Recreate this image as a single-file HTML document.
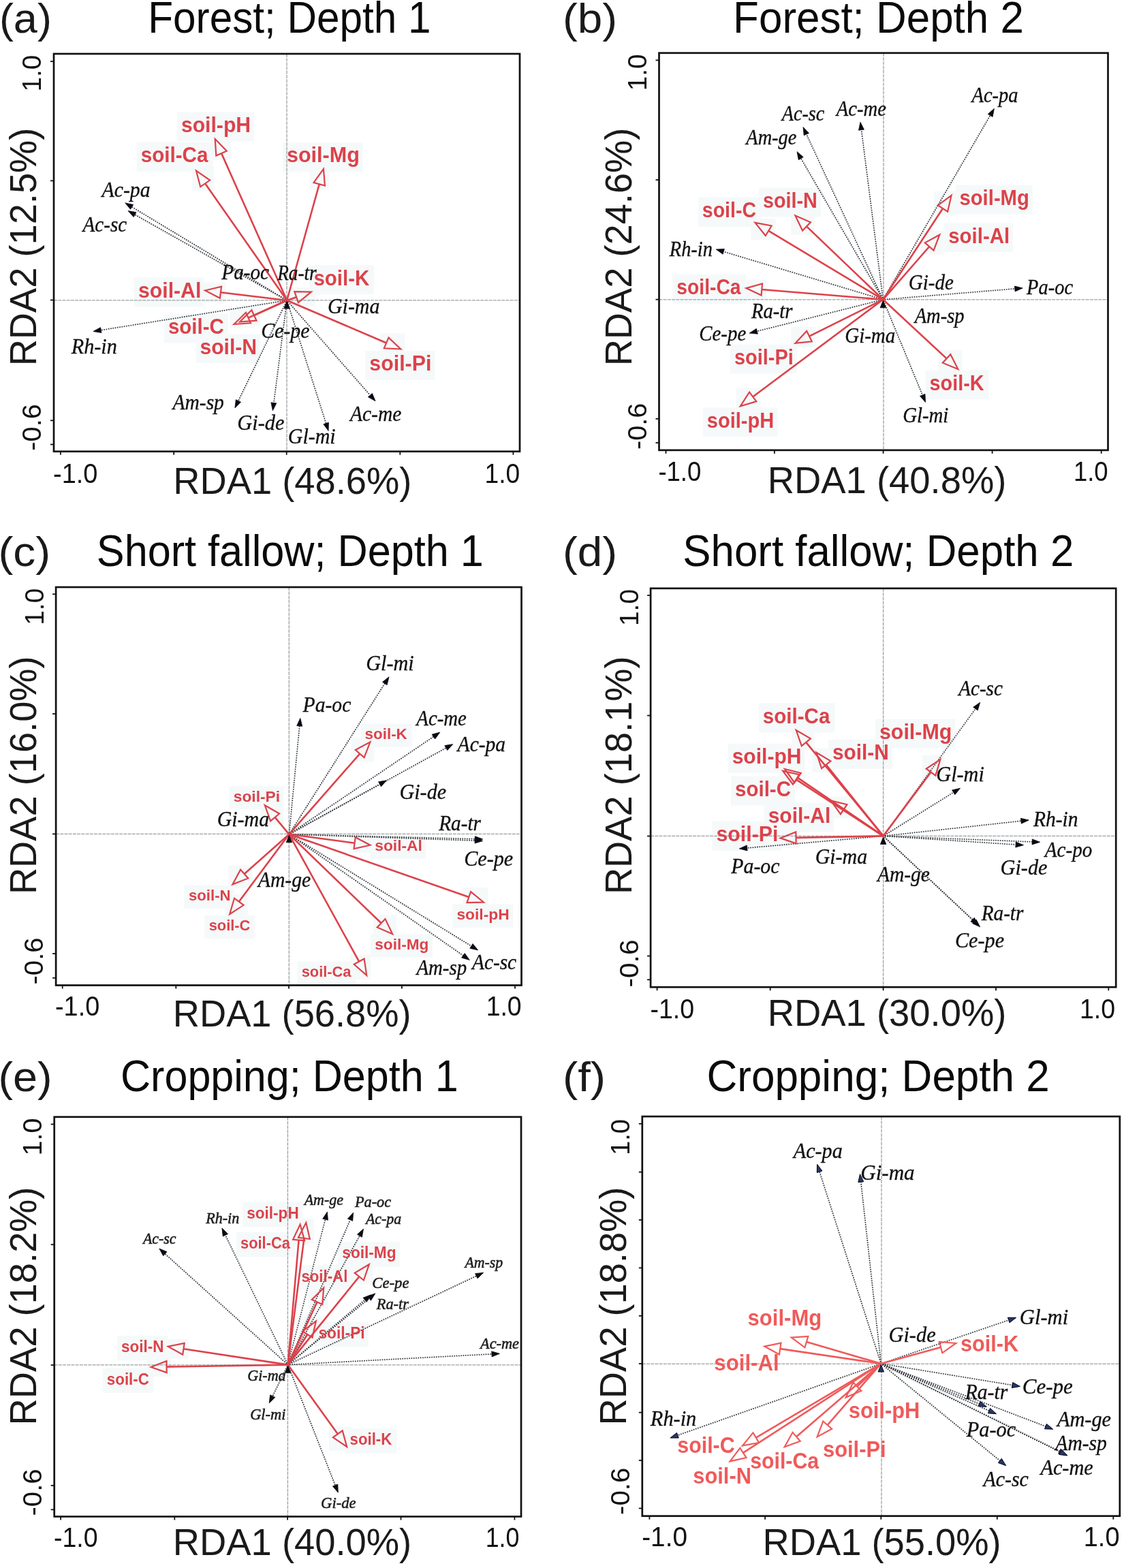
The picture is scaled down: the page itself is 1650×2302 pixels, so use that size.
<!DOCTYPE html>
<html><head><meta charset="utf-8"><title>RDA biplots</title>
<style>html,body{margin:0;padding:0;background:#fff;overflow:hidden;width:1650px;height:2302px;} svg{display:block;}</style></head>
<body><svg width="1650" height="2302" viewBox="0 0 1650 2302">
<rect width="1650" height="2302" fill="#fff"/>
<rect x="260.0" y="164.7" width="113.1" height="42.9" fill="#f5f9f9"/>
<rect x="309.7" y="198.1" width="29.1" height="36.5" fill="#f5f9f9"/>
<rect x="200.7" y="209.0" width="112.0" height="42.9" fill="#f5f9f9"/>
<rect x="282.0" y="244.6" width="32.1" height="35.7" fill="#f5f9f9"/>
<rect x="415.0" y="209.2" width="117.8" height="42.9" fill="#f5f9f9"/>
<rect x="454.5" y="242.1" width="28.4" height="36.4" fill="#f5f9f9"/>
<rect x="454.5" y="389.3" width="94.6" height="42.9" fill="#f5f9f9"/>
<rect x="426.3" y="422.1" width="36.5" height="28.1" fill="#f5f9f9"/>
<rect x="197.1" y="407.5" width="103.1" height="42.9" fill="#f5f9f9"/>
<rect x="295.1" y="414.8" width="35.9" height="28.9" fill="#f5f9f9"/>
<rect x="241.0" y="460.6" width="94.0" height="42.9" fill="#f5f9f9"/>
<rect x="337.5" y="452.8" width="36.5" height="29.2" fill="#f5f9f9"/>
<rect x="287.5" y="490.3" width="94.6" height="42.9" fill="#f5f9f9"/>
<rect x="346.0" y="449.2" width="36.5" height="29.3" fill="#f5f9f9"/>
<rect x="536.4" y="514.9" width="101.8" height="42.9" fill="#f5f9f9"/>
<rect x="557.8" y="489.6" width="36.5" height="28.9" fill="#f5f9f9"/>
<line x1="79.0" y1="440.8" x2="763.0" y2="440.8" stroke="#9ca1a1" stroke-width="1.3" stroke-dasharray="5 1.2"/>
<line x1="421.0" y1="79.0" x2="421.0" y2="662.8" stroke="#9ca1a1" stroke-width="1.3" stroke-dasharray="5 1.2"/>
<line x1="421.2" y1="441.0" x2="193.6" y2="303.8" stroke="#3c4146" stroke-width="2.0" stroke-linecap="round" stroke-dasharray="0.01 3.3"/>
<polygon points="183.7,297.9 195.6,300.4 191.5,307.3" fill="#0a0a14" stroke="#0a0a14" stroke-width="0.8"/>
<line x1="421.2" y1="441.0" x2="198.0" y2="315.1" stroke="#3c4146" stroke-width="2.0" stroke-linecap="round" stroke-dasharray="0.01 3.3"/>
<polygon points="188.0,309.5 200.0,311.7 196.1,318.6" fill="#0a0a14" stroke="#0a0a14" stroke-width="0.8"/>
<line x1="421.2" y1="441.0" x2="148.3" y2="484.7" stroke="#3c4146" stroke-width="2.0" stroke-linecap="round" stroke-dasharray="0.01 3.3"/>
<polygon points="136.9,486.5 147.6,480.7 148.9,488.6" fill="#0a0a14" stroke="#0a0a14" stroke-width="0.8"/>
<line x1="421.2" y1="441.0" x2="349.9" y2="588.5" stroke="#3c4146" stroke-width="2.0" stroke-linecap="round" stroke-dasharray="0.01 3.3"/>
<polygon points="344.9,598.9 346.3,586.8 353.5,590.3" fill="#0a0a14" stroke="#0a0a14" stroke-width="0.8"/>
<line x1="421.2" y1="441.0" x2="401.9" y2="591.4" stroke="#3c4146" stroke-width="2.0" stroke-linecap="round" stroke-dasharray="0.01 3.3"/>
<polygon points="400.4,602.8 397.9,590.9 405.8,591.9" fill="#0a0a14" stroke="#0a0a14" stroke-width="0.8"/>
<line x1="421.2" y1="441.0" x2="478.6" y2="621.5" stroke="#3c4146" stroke-width="2.0" stroke-linecap="round" stroke-dasharray="0.01 3.3"/>
<polygon points="482.1,632.5 474.8,622.8 482.4,620.3" fill="#0a0a14" stroke="#0a0a14" stroke-width="0.8"/>
<line x1="421.2" y1="441.0" x2="543.4" y2="580.2" stroke="#3c4146" stroke-width="2.0" stroke-linecap="round" stroke-dasharray="0.01 3.3"/>
<polygon points="551.0,588.8 540.4,582.8 546.4,577.5" fill="#0a0a14" stroke="#0a0a14" stroke-width="0.8"/>
<line x1="421.2" y1="441.0" x2="325.1" y2="225.1" stroke="#dc424b" stroke-width="2.6"/>
<polygon points="315.7,204.1 332.8,221.7 317.3,228.6" fill="none" stroke="#dc424b" stroke-width="2.2" stroke-linejoin="miter"/>
<line x1="421.2" y1="441.0" x2="301.2" y2="269.4" stroke="#dc424b" stroke-width="2.6"/>
<polygon points="288.0,250.6 308.1,264.6 294.2,274.3" fill="none" stroke="#dc424b" stroke-width="2.2" stroke-linejoin="miter"/>
<line x1="421.2" y1="441.0" x2="468.7" y2="270.3" stroke="#dc424b" stroke-width="2.6"/>
<polygon points="474.9,248.1 476.9,272.5 460.5,268.0" fill="none" stroke="#dc424b" stroke-width="2.2" stroke-linejoin="miter"/>
<line x1="421.2" y1="441.0" x2="435.1" y2="436.2" stroke="#dc424b" stroke-width="2.6"/>
<polygon points="456.8,428.6 437.9,444.2 432.3,428.1" fill="none" stroke="#dc424b" stroke-width="2.2" stroke-linejoin="miter"/>
<line x1="421.2" y1="441.0" x2="323.9" y2="429.3" stroke="#dc424b" stroke-width="2.6"/>
<polygon points="301.1,426.5 325.0,420.8 322.9,437.7" fill="none" stroke="#dc424b" stroke-width="2.2" stroke-linejoin="miter"/>
<line x1="421.2" y1="441.0" x2="364.5" y2="466.6" stroke="#dc424b" stroke-width="2.6"/>
<polygon points="343.5,476.0 361.0,458.8 368.0,474.3" fill="none" stroke="#dc424b" stroke-width="2.2" stroke-linejoin="miter"/>
<line x1="421.2" y1="441.0" x2="372.9" y2="463.0" stroke="#dc424b" stroke-width="2.6"/>
<polygon points="352.0,472.5 369.4,455.2 376.5,470.7" fill="none" stroke="#dc424b" stroke-width="2.2" stroke-linejoin="miter"/>
<line x1="421.2" y1="441.0" x2="567.2" y2="503.5" stroke="#dc424b" stroke-width="2.6"/>
<polygon points="588.3,512.5 563.8,511.3 570.5,495.6" fill="none" stroke="#dc424b" stroke-width="2.2" stroke-linejoin="miter"/>
<polygon points="421.2,442.5 417.0,453.0 425.4,453.0" fill="#0a0a14" stroke="#0a0a14" stroke-width="0.8"/>
<text transform="translate(149.62,288.60) scale(0.9426,1)" font-size="31.5" font-family='"Liberation Serif", "Times New Roman", serif' font-weight="normal" font-style="italic" fill="#111" stroke="#111" stroke-width="0.35">Ac-pa</text>
<text transform="translate(121.59,339.80) scale(0.9224,1)" font-size="31.5" font-family='"Liberation Serif", "Times New Roman", serif' font-weight="normal" font-style="italic" fill="#111" stroke="#111" stroke-width="0.35">Ac-sc</text>
<text transform="translate(104.76,519.40) scale(0.9572,1)" font-size="31.5" font-family='"Liberation Serif", "Times New Roman", serif' font-weight="normal" font-style="italic" fill="#111" stroke="#111" stroke-width="0.35">Rh-in</text>
<text transform="translate(253.51,600.80) scale(0.9365,1)" font-size="31.5" font-family='"Liberation Serif", "Times New Roman", serif' font-weight="normal" font-style="italic" fill="#111" stroke="#111" stroke-width="0.35">Am-sp</text>
<text transform="translate(348.32,630.50) scale(0.9643,1)" font-size="31.5" font-family='"Liberation Serif", "Times New Roman", serif' font-weight="normal" font-style="italic" fill="#111" stroke="#111" stroke-width="0.35">Gi-de</text>
<text transform="translate(422.85,651.20) scale(0.9492,1)" font-size="31.5" font-family='"Liberation Serif", "Times New Roman", serif' font-weight="normal" font-style="italic" fill="#111" stroke="#111" stroke-width="0.35">Gl-mi</text>
<text transform="translate(514.01,617.60) scale(0.9355,1)" font-size="31.5" font-family='"Liberation Serif", "Times New Roman", serif' font-weight="normal" font-style="italic" fill="#111" stroke="#111" stroke-width="0.35">Ac-me</text>
<text transform="translate(481.05,460.00) scale(0.9489,1)" font-size="31.5" font-family='"Liberation Serif", "Times New Roman", serif' font-weight="normal" font-style="italic" fill="#111" stroke="#111" stroke-width="0.35">Gi-ma</text>
<text transform="translate(325.36,410.00) scale(0.9261,1)" font-size="31.5" font-family='"Liberation Serif", "Times New Roman", serif' font-weight="normal" font-style="italic" fill="#111" stroke="#111" stroke-width="0.35">Pa-oc</text>
<text transform="translate(407.15,411.20) scale(0.8659,1)" font-size="31.5" font-family='"Liberation Serif", "Times New Roman", serif' font-weight="normal" font-style="italic" fill="#111" stroke="#111" stroke-width="0.35">Ra-tr</text>
<text transform="translate(383.24,496.10) scale(0.9471,1)" font-size="31.5" font-family='"Liberation Serif", "Times New Roman", serif' font-weight="normal" font-style="italic" fill="#111" stroke="#111" stroke-width="0.35">Ce-pe</text>
<text transform="translate(265.94,193.90) scale(0.9888,1)" font-size="30.5" font-family='"Liberation Sans", Arial, sans-serif' font-weight="bold" font-style="normal" fill="#dc424b">soil-pH</text>
<text transform="translate(206.66,238.20) scale(0.9721,1)" font-size="30.5" font-family='"Liberation Sans", Arial, sans-serif' font-weight="bold" font-style="normal" fill="#dc424b">soil-Ca</text>
<text transform="translate(420.93,238.40) scale(1.0017,1)" font-size="30.5" font-family='"Liberation Sans", Arial, sans-serif' font-weight="bold" font-style="normal" fill="#dc424b">soil-Mg</text>
<text transform="translate(460.46,418.50) scale(0.9668,1)" font-size="30.5" font-family='"Liberation Sans", Arial, sans-serif' font-weight="bold" font-style="normal" fill="#dc424b">soil-K</text>
<text transform="translate(203.04,436.70) scale(0.9904,1)" font-size="30.5" font-family='"Liberation Sans", Arial, sans-serif' font-weight="bold" font-style="normal" fill="#dc424b">soil-Al</text>
<text transform="translate(246.96,489.80) scale(0.9660,1)" font-size="30.5" font-family='"Liberation Sans", Arial, sans-serif' font-weight="bold" font-style="normal" fill="#dc424b">soil-C</text>
<text transform="translate(293.44,519.50) scale(0.9878,1)" font-size="30.5" font-family='"Liberation Sans", Arial, sans-serif' font-weight="bold" font-style="normal" fill="#dc424b">soil-N</text>
<text transform="translate(542.33,544.10) scale(0.9945,1)" font-size="30.5" font-family='"Liberation Sans", Arial, sans-serif' font-weight="bold" font-style="normal" fill="#dc424b">soil-Pi</text>
<rect x="79.0" y="79.0" width="684.0" height="583.8" fill="none" stroke="#111" stroke-width="2.7"/>
<line x1="74.0" y1="90.2" x2="79.0" y2="90.2" stroke="#111" stroke-width="1.8"/>
<line x1="74.0" y1="265.4" x2="79.0" y2="265.4" stroke="#111" stroke-width="1.8"/>
<line x1="74.0" y1="440.5" x2="79.0" y2="440.5" stroke="#111" stroke-width="1.8"/>
<line x1="74.0" y1="617.3" x2="79.0" y2="617.3" stroke="#111" stroke-width="1.8"/>
<line x1="74.0" y1="652.5" x2="79.0" y2="652.5" stroke="#111" stroke-width="1.8"/>
<line x1="88.9" y1="662.8" x2="88.9" y2="667.8" stroke="#111" stroke-width="1.8"/>
<line x1="255.2" y1="662.8" x2="255.2" y2="667.8" stroke="#111" stroke-width="1.8"/>
<line x1="420.7" y1="662.8" x2="420.7" y2="667.8" stroke="#111" stroke-width="1.8"/>
<line x1="587.3" y1="662.8" x2="587.3" y2="667.8" stroke="#111" stroke-width="1.8"/>
<line x1="753.4" y1="662.8" x2="753.4" y2="667.8" stroke="#111" stroke-width="1.8"/>
<text transform="translate(60.20,134.54) rotate(-90) scale(0.9820,1)" font-size="39.3" font-family='"Liberation Sans", Arial, sans-serif' font-weight="normal" font-style="normal" fill="#111">1.0</text>
<text transform="translate(60.30,661.67) rotate(-90) scale(1.0117,1)" font-size="39.3" font-family='"Liberation Sans", Arial, sans-serif' font-weight="normal" font-style="normal" fill="#111">-0.6</text>
<text transform="translate(78.01,709.30) scale(0.9185,1)" font-size="41.3" font-family='"Liberation Sans", Arial, sans-serif' font-weight="normal" font-style="normal" fill="#111">-1.0</text>
<text transform="translate(711.47,709.20) scale(0.9002,1)" font-size="41.3" font-family='"Liberation Sans", Arial, sans-serif' font-weight="normal" font-style="normal" fill="#111">1.0</text>
<text transform="translate(254.24,725.40) scale(0.9701,1)" font-size="56" font-family='"Liberation Sans", Arial, sans-serif' font-weight="normal" font-style="normal" fill="#1a1a1a">RDA1 (48.6%)</text>
<text transform="translate(52.90,537.35) rotate(-90) scale(0.9795,1)" font-size="55.4" font-family='"Liberation Sans", Arial, sans-serif' font-weight="normal" font-style="normal" fill="#1a1a1a">RDA2 (12.5%)</text>
<text transform="translate(-1.11,48.00) scale(1.0246,1)" font-size="61.5" font-family='"Liberation Sans", Arial, sans-serif' font-weight="normal" font-style="normal" fill="#1a1a1a">(a)</text>
<text transform="translate(217.26,48.00) scale(0.9342,1)" font-size="64.5" font-family='"Liberation Sans", Arial, sans-serif' font-weight="normal" font-style="normal" fill="#0a0a0a">Forest; Depth 1</text>
<rect x="1113.9" y="275.6" width="91.0" height="42.9" fill="#f5f9f9"/>
<rect x="1161.4" y="310.5" width="34.5" height="34.0" fill="#f5f9f9"/>
<rect x="1024.8" y="289.8" width="91.5" height="42.9" fill="#f5f9f9"/>
<rect x="1102.5" y="320.9" width="36.1" height="31.1" fill="#f5f9f9"/>
<rect x="987.3" y="402.8" width="107.5" height="42.9" fill="#f5f9f9"/>
<rect x="1089.4" y="410.5" width="35.6" height="28.9" fill="#f5f9f9"/>
<rect x="1402.5" y="271.7" width="113.5" height="42.9" fill="#f5f9f9"/>
<rect x="1370.9" y="280.8" width="31.7" height="35.9" fill="#f5f9f9"/>
<rect x="1386.3" y="327.3" width="100.7" height="42.9" fill="#f5f9f9"/>
<rect x="1351.8" y="338.7" width="33.5" height="34.9" fill="#f5f9f9"/>
<rect x="1072.0" y="505.8" width="97.8" height="42.9" fill="#f5f9f9"/>
<rect x="1161.4" y="480.0" width="36.4" height="29.9" fill="#f5f9f9"/>
<rect x="1031.8" y="598.3" width="109.5" height="42.9" fill="#f5f9f9"/>
<rect x="1080.8" y="569.7" width="35.5" height="32.6" fill="#f5f9f9"/>
<rect x="1358.6" y="543.3" width="92.8" height="42.9" fill="#f5f9f9"/>
<rect x="1377.8" y="514.2" width="34.6" height="33.9" fill="#f5f9f9"/>
<line x1="967.5" y1="439.8" x2="1626.5" y2="439.8" stroke="#9ca1a1" stroke-width="1.3" stroke-dasharray="5 1.2"/>
<line x1="1297.0" y1="77.8" x2="1297.0" y2="660.9" stroke="#9ca1a1" stroke-width="1.3" stroke-dasharray="5 1.2"/>
<line x1="1296.3" y1="439.8" x2="1183.8" y2="197.0" stroke="#3c4146" stroke-width="2.0" stroke-linecap="round" stroke-dasharray="0.01 3.3"/>
<polygon points="1179.0,186.6 1187.5,195.4 1180.2,198.7" fill="#0a0a14" stroke="#0a0a14" stroke-width="0.8"/>
<line x1="1296.3" y1="439.8" x2="1264.5" y2="190.7" stroke="#3c4146" stroke-width="2.0" stroke-linecap="round" stroke-dasharray="0.01 3.3"/>
<polygon points="1263.0,179.3 1268.4,190.2 1260.5,191.2" fill="#0a0a14" stroke="#0a0a14" stroke-width="0.8"/>
<line x1="1296.3" y1="439.8" x2="1175.8" y2="232.6" stroke="#3c4146" stroke-width="2.0" stroke-linecap="round" stroke-dasharray="0.01 3.3"/>
<polygon points="1170.0,222.7 1179.2,230.6 1172.3,234.7" fill="#0a0a14" stroke="#0a0a14" stroke-width="0.8"/>
<line x1="1296.3" y1="439.8" x2="1453.6" y2="169.4" stroke="#3c4146" stroke-width="2.0" stroke-linecap="round" stroke-dasharray="0.01 3.3"/>
<polygon points="1459.4,159.5 1457.1,171.5 1450.2,167.4" fill="#0a0a14" stroke="#0a0a14" stroke-width="0.8"/>
<line x1="1296.3" y1="439.8" x2="1062.2" y2="369.4" stroke="#3c4146" stroke-width="2.0" stroke-linecap="round" stroke-dasharray="0.01 3.3"/>
<polygon points="1051.2,366.1 1063.4,365.6 1061.1,373.2" fill="#0a0a14" stroke="#0a0a14" stroke-width="0.8"/>
<line x1="1296.3" y1="439.8" x2="1489.7" y2="423.9" stroke="#3c4146" stroke-width="2.0" stroke-linecap="round" stroke-dasharray="0.01 3.3"/>
<polygon points="1501.2,423.0 1490.1,427.9 1489.4,420.0" fill="#0a0a14" stroke="#0a0a14" stroke-width="0.8"/>
<line x1="1296.3" y1="439.8" x2="1111.4" y2="486.3" stroke="#3c4146" stroke-width="2.0" stroke-linecap="round" stroke-dasharray="0.01 3.3"/>
<polygon points="1100.2,489.1 1110.4,482.4 1112.3,490.2" fill="#0a0a14" stroke="#0a0a14" stroke-width="0.8"/>
<line x1="1296.3" y1="439.8" x2="1354.2" y2="580.0" stroke="#3c4146" stroke-width="2.0" stroke-linecap="round" stroke-dasharray="0.01 3.3"/>
<polygon points="1358.6,590.6 1350.5,581.5 1357.9,578.4" fill="#0a0a14" stroke="#0a0a14" stroke-width="0.8"/>
<line x1="1296.3" y1="439.8" x2="1184.0" y2="332.4" stroke="#dc424b" stroke-width="2.6"/>
<polygon points="1167.4,316.5 1189.9,326.3 1178.1,338.5" fill="none" stroke="#dc424b" stroke-width="2.2" stroke-linejoin="miter"/>
<line x1="1296.3" y1="439.8" x2="1128.2" y2="338.8" stroke="#dc424b" stroke-width="2.6"/>
<polygon points="1108.5,326.9 1132.6,331.5 1123.8,346.0" fill="none" stroke="#dc424b" stroke-width="2.2" stroke-linejoin="miter"/>
<line x1="1296.3" y1="439.8" x2="1118.3" y2="425.0" stroke="#dc424b" stroke-width="2.6"/>
<polygon points="1095.4,423.1 1119.0,416.5 1117.6,433.5" fill="none" stroke="#dc424b" stroke-width="2.2" stroke-linejoin="miter"/>
<line x1="1296.3" y1="439.8" x2="1384.0" y2="306.0" stroke="#dc424b" stroke-width="2.6"/>
<polygon points="1396.6,286.8 1391.1,310.7 1376.9,301.4" fill="none" stroke="#dc424b" stroke-width="2.2" stroke-linejoin="miter"/>
<line x1="1296.3" y1="439.8" x2="1364.2" y2="362.0" stroke="#dc424b" stroke-width="2.6"/>
<polygon points="1379.3,344.7 1370.6,367.6 1357.8,356.4" fill="none" stroke="#dc424b" stroke-width="2.2" stroke-linejoin="miter"/>
<line x1="1296.3" y1="439.8" x2="1188.0" y2="493.7" stroke="#dc424b" stroke-width="2.6"/>
<polygon points="1167.4,503.9 1184.2,486.0 1191.8,501.3" fill="none" stroke="#dc424b" stroke-width="2.2" stroke-linejoin="miter"/>
<line x1="1296.3" y1="439.8" x2="1105.2" y2="582.5" stroke="#dc424b" stroke-width="2.6"/>
<polygon points="1086.8,596.3 1100.1,575.7 1110.3,589.3" fill="none" stroke="#dc424b" stroke-width="2.2" stroke-linejoin="miter"/>
<line x1="1296.3" y1="439.8" x2="1389.6" y2="526.4" stroke="#dc424b" stroke-width="2.6"/>
<polygon points="1406.4,542.1 1383.8,532.7 1395.3,520.2" fill="none" stroke="#dc424b" stroke-width="2.2" stroke-linejoin="miter"/>
<polygon points="1296.3,441.3 1292.1,451.8 1300.5,451.8" fill="#0a0a14" stroke="#0a0a14" stroke-width="0.8"/>
<text transform="translate(1147.74,176.80) scale(0.8944,1)" font-size="31.5" font-family='"Liberation Serif", "Times New Roman", serif' font-weight="normal" font-style="italic" fill="#111" stroke="#111" stroke-width="0.35">Ac-sc</text>
<text transform="translate(1227.86,170.40) scale(0.9085,1)" font-size="31.5" font-family='"Liberation Serif", "Times New Roman", serif' font-weight="normal" font-style="italic" fill="#111" stroke="#111" stroke-width="0.35">Ac-me</text>
<text transform="translate(1095.35,211.70) scale(0.9000,1)" font-size="31.5" font-family='"Liberation Serif", "Times New Roman", serif' font-weight="normal" font-style="italic" fill="#111" stroke="#111" stroke-width="0.35">Am-ge</text>
<text transform="translate(1426.56,149.70) scale(0.9043,1)" font-size="31.5" font-family='"Liberation Serif", "Times New Roman", serif' font-weight="normal" font-style="italic" fill="#111" stroke="#111" stroke-width="0.35">Ac-pa</text>
<text transform="translate(982.85,376.30) scale(0.9006,1)" font-size="31.5" font-family='"Liberation Serif", "Times New Roman", serif' font-weight="normal" font-style="italic" fill="#111" stroke="#111" stroke-width="0.35">Rh-in</text>
<text transform="translate(1507.05,431.80) scale(0.9061,1)" font-size="31.5" font-family='"Liberation Serif", "Times New Roman", serif' font-weight="normal" font-style="italic" fill="#111" stroke="#111" stroke-width="0.35">Pa-oc</text>
<text transform="translate(1333.80,424.80) scale(0.9210,1)" font-size="31.5" font-family='"Liberation Serif", "Times New Roman", serif' font-weight="normal" font-style="italic" fill="#111" stroke="#111" stroke-width="0.35">Gi-de</text>
<text transform="translate(1102.95,467.20) scale(0.9093,1)" font-size="31.5" font-family='"Liberation Serif", "Times New Roman", serif' font-weight="normal" font-style="italic" fill="#111" stroke="#111" stroke-width="0.35">Ra-tr</text>
<text transform="translate(1026.29,500.10) scale(0.9168,1)" font-size="31.5" font-family='"Liberation Serif", "Times New Roman", serif' font-weight="normal" font-style="italic" fill="#111" stroke="#111" stroke-width="0.35">Ce-pe</text>
<text transform="translate(1240.20,503.10) scale(0.9205,1)" font-size="31.5" font-family='"Liberation Serif", "Times New Roman", serif' font-weight="normal" font-style="italic" fill="#111" stroke="#111" stroke-width="0.35">Gi-ma</text>
<text transform="translate(1342.66,474.20) scale(0.9058,1)" font-size="31.5" font-family='"Liberation Serif", "Times New Roman", serif' font-weight="normal" font-style="italic" fill="#111" stroke="#111" stroke-width="0.35">Am-sp</text>
<text transform="translate(1325.31,619.70) scale(0.9125,1)" font-size="31.5" font-family='"Liberation Serif", "Times New Roman", serif' font-weight="normal" font-style="italic" fill="#111" stroke="#111" stroke-width="0.35">Gl-mi</text>
<text transform="translate(1119.89,304.80) scale(0.9437,1)" font-size="30.5" font-family='"Liberation Sans", Arial, sans-serif' font-weight="bold" font-style="normal" fill="#dc424b">soil-N</text>
<text transform="translate(1030.80,319.00) scale(0.9358,1)" font-size="30.5" font-family='"Liberation Sans", Arial, sans-serif' font-weight="bold" font-style="normal" fill="#dc424b">soil-C</text>
<text transform="translate(993.31,432.00) scale(0.9275,1)" font-size="30.5" font-family='"Liberation Sans", Arial, sans-serif' font-weight="bold" font-style="normal" fill="#dc424b">soil-Ca</text>
<text transform="translate(1408.47,300.90) scale(0.9602,1)" font-size="30.5" font-family='"Liberation Sans", Arial, sans-serif' font-weight="bold" font-style="normal" fill="#dc424b">soil-Mg</text>
<text transform="translate(1392.27,356.50) scale(0.9637,1)" font-size="30.5" font-family='"Liberation Sans", Arial, sans-serif' font-weight="bold" font-style="normal" fill="#dc424b">soil-Al</text>
<text transform="translate(1077.98,535.00) scale(0.9492,1)" font-size="30.5" font-family='"Liberation Sans", Arial, sans-serif' font-weight="bold" font-style="normal" fill="#dc424b">soil-Pi</text>
<text transform="translate(1037.78,627.50) scale(0.9528,1)" font-size="30.5" font-family='"Liberation Sans", Arial, sans-serif' font-weight="bold" font-style="normal" fill="#dc424b">soil-pH</text>
<text transform="translate(1364.59,572.50) scale(0.9452,1)" font-size="30.5" font-family='"Liberation Sans", Arial, sans-serif' font-weight="bold" font-style="normal" fill="#dc424b">soil-K</text>
<rect x="967.5" y="77.8" width="659.0" height="583.1" fill="none" stroke="#111" stroke-width="2.7"/>
<line x1="962.5" y1="88.4" x2="967.5" y2="88.4" stroke="#111" stroke-width="1.8"/>
<line x1="962.5" y1="264.1" x2="967.5" y2="264.1" stroke="#111" stroke-width="1.8"/>
<line x1="962.5" y1="439.7" x2="967.5" y2="439.7" stroke="#111" stroke-width="1.8"/>
<line x1="962.5" y1="614.9" x2="967.5" y2="614.9" stroke="#111" stroke-width="1.8"/>
<line x1="962.5" y1="650.1" x2="967.5" y2="650.1" stroke="#111" stroke-width="1.8"/>
<line x1="977.5" y1="660.9" x2="977.5" y2="665.9" stroke="#111" stroke-width="1.8"/>
<line x1="1136.9" y1="660.9" x2="1136.9" y2="665.9" stroke="#111" stroke-width="1.8"/>
<line x1="1296.6" y1="660.9" x2="1296.6" y2="665.9" stroke="#111" stroke-width="1.8"/>
<line x1="1456.6" y1="660.9" x2="1456.6" y2="665.9" stroke="#111" stroke-width="1.8"/>
<line x1="1616.7" y1="660.9" x2="1616.7" y2="665.9" stroke="#111" stroke-width="1.8"/>
<text transform="translate(949.40,133.15) rotate(-90) scale(0.9840,1)" font-size="39.3" font-family='"Liberation Sans", Arial, sans-serif' font-weight="normal" font-style="normal" fill="#111">1.0</text>
<text transform="translate(949.30,659.96) rotate(-90) scale(1.0071,1)" font-size="39.3" font-family='"Liberation Sans", Arial, sans-serif' font-weight="normal" font-style="normal" fill="#111">-0.6</text>
<text transform="translate(966.38,706.10) scale(0.8846,1)" font-size="41.3" font-family='"Liberation Sans", Arial, sans-serif' font-weight="normal" font-style="normal" fill="#111">-1.0</text>
<text transform="translate(1575.92,706.10) scale(0.8831,1)" font-size="41.3" font-family='"Liberation Sans", Arial, sans-serif' font-weight="normal" font-style="normal" fill="#111">1.0</text>
<text transform="translate(1126.74,724.20) scale(0.9715,1)" font-size="56" font-family='"Liberation Sans", Arial, sans-serif' font-weight="normal" font-style="normal" fill="#1a1a1a">RDA1 (40.8%)</text>
<text transform="translate(927.20,537.35) rotate(-90) scale(0.9795,1)" font-size="55.4" font-family='"Liberation Sans", Arial, sans-serif' font-weight="normal" font-style="normal" fill="#1a1a1a">RDA2 (24.6%)</text>
<text transform="translate(826.03,48.20) scale(1.0661,1)" font-size="61.5" font-family='"Liberation Sans", Arial, sans-serif' font-weight="normal" font-style="normal" fill="#1a1a1a">(b)</text>
<text transform="translate(1076.12,48.20) scale(0.9601,1)" font-size="64.5" font-family='"Liberation Sans", Arial, sans-serif' font-weight="normal" font-style="normal" fill="#0a0a0a">Forest; Depth 2</text>
<rect x="336.6" y="1154.2" width="79.9" height="34.1" fill="#f5f9f9"/>
<rect x="382.8" y="1176.3" width="33.3" height="35.1" fill="#f5f9f9"/>
<rect x="529.4" y="1062.5" width="75.2" height="34.1" fill="#f5f9f9"/>
<rect x="515.8" y="1083.3" width="33.6" height="34.9" fill="#f5f9f9"/>
<rect x="544.1" y="1226.9" width="81.2" height="34.1" fill="#f5f9f9"/>
<rect x="513.5" y="1223.2" width="35.9" height="28.9" fill="#f5f9f9"/>
<rect x="664.2" y="1327.6" width="89.0" height="34.1" fill="#f5f9f9"/>
<rect x="679.5" y="1303.1" width="36.5" height="28.0" fill="#f5f9f9"/>
<rect x="544.1" y="1371.5" width="90.8" height="34.1" fill="#f5f9f9"/>
<rect x="547.7" y="1343.1" width="34.5" height="34.1" fill="#f5f9f9"/>
<rect x="436.4" y="1411.6" width="86.3" height="34.1" fill="#f5f9f9"/>
<rect x="513.7" y="1401.6" width="30.5" height="36.3" fill="#f5f9f9"/>
<rect x="270.7" y="1300.0" width="73.4" height="34.1" fill="#f5f9f9"/>
<rect x="335.5" y="1270.7" width="34.8" height="33.6" fill="#f5f9f9"/>
<rect x="300.4" y="1343.9" width="73.4" height="34.1" fill="#f5f9f9"/>
<rect x="331.1" y="1312.7" width="32.5" height="35.5" fill="#f5f9f9"/>
<line x1="82.1" y1="1224.4" x2="765.5" y2="1224.4" stroke="#9ca1a1" stroke-width="1.3" stroke-dasharray="5 1.2"/>
<line x1="424.3" y1="862.0" x2="424.3" y2="1446.5" stroke="#9ca1a1" stroke-width="1.3" stroke-dasharray="5 1.2"/>
<line x1="424.4" y1="1224.8" x2="564.8" y2="1003.4" stroke="#3c4146" stroke-width="2.0" stroke-linecap="round" stroke-dasharray="0.01 3.3"/>
<polygon points="571.0,993.7 568.2,1005.6 561.5,1001.3" fill="#0a0a14" stroke="#0a0a14" stroke-width="0.8"/>
<line x1="424.4" y1="1224.8" x2="439.7" y2="1065.8" stroke="#3c4146" stroke-width="2.0" stroke-linecap="round" stroke-dasharray="0.01 3.3"/>
<polygon points="440.8,1054.4 443.7,1066.2 435.7,1065.5" fill="#0a0a14" stroke="#0a0a14" stroke-width="0.8"/>
<line x1="424.4" y1="1224.8" x2="636.4" y2="1081.5" stroke="#3c4146" stroke-width="2.0" stroke-linecap="round" stroke-dasharray="0.01 3.3"/>
<polygon points="645.9,1075.1 638.6,1084.9 634.1,1078.2" fill="#0a0a14" stroke="#0a0a14" stroke-width="0.8"/>
<line x1="424.4" y1="1224.8" x2="654.7" y2="1098.1" stroke="#3c4146" stroke-width="2.0" stroke-linecap="round" stroke-dasharray="0.01 3.3"/>
<polygon points="664.8,1092.6 656.7,1101.6 652.8,1094.6" fill="#0a0a14" stroke="#0a0a14" stroke-width="0.8"/>
<line x1="424.4" y1="1224.8" x2="557.4" y2="1151.3" stroke="#3c4146" stroke-width="2.0" stroke-linecap="round" stroke-dasharray="0.01 3.3"/>
<polygon points="567.5,1145.7 559.4,1154.8 555.5,1147.8" fill="#0a0a14" stroke="#0a0a14" stroke-width="0.8"/>
<line x1="424.4" y1="1224.8" x2="697.2" y2="1231.7" stroke="#3c4146" stroke-width="2.0" stroke-linecap="round" stroke-dasharray="0.01 3.3"/>
<polygon points="708.7,1232.0 697.1,1235.7 697.3,1227.7" fill="#0a0a14" stroke="#0a0a14" stroke-width="0.8"/>
<line x1="424.4" y1="1224.8" x2="697.2" y2="1234.1" stroke="#3c4146" stroke-width="2.0" stroke-linecap="round" stroke-dasharray="0.01 3.3"/>
<polygon points="708.7,1234.5 697.1,1238.1 697.3,1230.1" fill="#0a0a14" stroke="#0a0a14" stroke-width="0.8"/>
<line x1="424.4" y1="1224.8" x2="691.9" y2="1388.9" stroke="#3c4146" stroke-width="2.0" stroke-linecap="round" stroke-dasharray="0.01 3.3"/>
<polygon points="701.7,1394.9 689.8,1392.3 694.0,1385.5" fill="#0a0a14" stroke="#0a0a14" stroke-width="0.8"/>
<line x1="424.4" y1="1224.8" x2="679.9" y2="1402.8" stroke="#3c4146" stroke-width="2.0" stroke-linecap="round" stroke-dasharray="0.01 3.3"/>
<polygon points="689.3,1409.4 677.6,1406.1 682.2,1399.5" fill="#0a0a14" stroke="#0a0a14" stroke-width="0.8"/>
<line x1="424.4" y1="1224.8" x2="403.6" y2="1199.9" stroke="#dc424b" stroke-width="2.6"/>
<polygon points="388.8,1182.3 410.1,1194.5 397.1,1205.4" fill="none" stroke="#dc424b" stroke-width="2.2" stroke-linejoin="miter"/>
<line x1="424.4" y1="1224.8" x2="528.2" y2="1106.6" stroke="#dc424b" stroke-width="2.6"/>
<polygon points="543.4,1089.3 534.6,1112.2 521.8,1101.0" fill="none" stroke="#dc424b" stroke-width="2.2" stroke-linejoin="miter"/>
<line x1="424.4" y1="1224.8" x2="520.6" y2="1237.7" stroke="#dc424b" stroke-width="2.6"/>
<polygon points="543.4,1240.7 519.5,1246.1 521.7,1229.2" fill="none" stroke="#dc424b" stroke-width="2.2" stroke-linejoin="miter"/>
<line x1="424.4" y1="1224.8" x2="688.3" y2="1317.1" stroke="#dc424b" stroke-width="2.6"/>
<polygon points="710.0,1324.7 685.5,1325.1 691.1,1309.1" fill="none" stroke="#dc424b" stroke-width="2.2" stroke-linejoin="miter"/>
<line x1="424.4" y1="1224.8" x2="559.6" y2="1355.2" stroke="#dc424b" stroke-width="2.6"/>
<polygon points="576.2,1371.2 553.7,1361.4 565.5,1349.1" fill="none" stroke="#dc424b" stroke-width="2.2" stroke-linejoin="miter"/>
<line x1="424.4" y1="1224.8" x2="527.1" y2="1411.7" stroke="#dc424b" stroke-width="2.6"/>
<polygon points="538.2,1431.9 519.7,1415.8 534.6,1407.6" fill="none" stroke="#dc424b" stroke-width="2.2" stroke-linejoin="miter"/>
<line x1="424.4" y1="1224.8" x2="358.7" y2="1283.0" stroke="#dc424b" stroke-width="2.6"/>
<polygon points="341.5,1298.3 353.1,1276.7 364.3,1289.4" fill="none" stroke="#dc424b" stroke-width="2.2" stroke-linejoin="miter"/>
<line x1="424.4" y1="1224.8" x2="350.8" y2="1323.7" stroke="#dc424b" stroke-width="2.6"/>
<polygon points="337.1,1342.2 344.0,1318.7 357.6,1328.8" fill="none" stroke="#dc424b" stroke-width="2.2" stroke-linejoin="miter"/>
<polygon points="424.4,1226.3 420.2,1236.8 428.6,1236.8" fill="#0a0a14" stroke="#0a0a14" stroke-width="0.8"/>
<text transform="translate(537.34,984.00) scale(0.9413,1)" font-size="32" font-family='"Liberation Serif", "Times New Roman", serif' font-weight="normal" font-style="italic" fill="#111" stroke="#111" stroke-width="0.35">Gl-mi</text>
<text transform="translate(444.56,1044.70) scale(0.9261,1)" font-size="32" font-family='"Liberation Serif", "Times New Roman", serif' font-weight="normal" font-style="italic" fill="#111" stroke="#111" stroke-width="0.35">Pa-oc</text>
<text transform="translate(611.37,1065.30) scale(0.8991,1)" font-size="32" font-family='"Liberation Serif", "Times New Roman", serif' font-weight="normal" font-style="italic" fill="#111" stroke="#111" stroke-width="0.35">Ac-me</text>
<text transform="translate(671.61,1102.80) scale(0.9226,1)" font-size="32" font-family='"Liberation Serif", "Times New Roman", serif' font-weight="normal" font-style="italic" fill="#111" stroke="#111" stroke-width="0.35">Ac-pa</text>
<text transform="translate(586.43,1172.60) scale(0.9435,1)" font-size="32" font-family='"Liberation Serif", "Times New Roman", serif' font-weight="normal" font-style="italic" fill="#111" stroke="#111" stroke-width="0.35">Gi-de</text>
<text transform="translate(644.26,1218.80) scale(0.9143,1)" font-size="32" font-family='"Liberation Serif", "Times New Roman", serif' font-weight="normal" font-style="italic" fill="#111" stroke="#111" stroke-width="0.35">Ra-tr</text>
<text transform="translate(681.22,1270.50) scale(0.9431,1)" font-size="32" font-family='"Liberation Serif", "Times New Roman", serif' font-weight="normal" font-style="italic" fill="#111" stroke="#111" stroke-width="0.35">Ce-pe</text>
<text transform="translate(318.65,1212.60) scale(0.9353,1)" font-size="32" font-family='"Liberation Serif", "Times New Roman", serif' font-weight="normal" font-style="italic" fill="#111" stroke="#111" stroke-width="0.35">Gi-ma</text>
<text transform="translate(378.82,1302.00) scale(0.9261,1)" font-size="32" font-family='"Liberation Serif", "Times New Roman", serif' font-weight="normal" font-style="italic" fill="#111" stroke="#111" stroke-width="0.35">Am-ge</text>
<text transform="translate(693.00,1423.40) scale(0.9163,1)" font-size="32" font-family='"Liberation Serif", "Times New Roman", serif' font-weight="normal" font-style="italic" fill="#111" stroke="#111" stroke-width="0.35">Ac-sc</text>
<text transform="translate(611.38,1431.20) scale(0.9013,1)" font-size="32" font-family='"Liberation Serif", "Times New Roman", serif' font-weight="normal" font-style="italic" fill="#111" stroke="#111" stroke-width="0.35">Am-sp</text>
<text transform="translate(342.80,1176.50) scale(1.0589,1)" font-size="21.5" font-family='"Liberation Sans", Arial, sans-serif' font-weight="bold" font-style="normal" fill="#dc424b">soil-Pi</text>
<text transform="translate(535.61,1084.80) scale(1.0414,1)" font-size="21.5" font-family='"Liberation Sans", Arial, sans-serif' font-weight="bold" font-style="normal" fill="#dc424b">soil-K</text>
<text transform="translate(550.30,1249.20) scale(1.0596,1)" font-size="21.5" font-family='"Liberation Sans", Arial, sans-serif' font-weight="bold" font-style="normal" fill="#dc424b">soil-Al</text>
<text transform="translate(670.40,1349.90) scale(1.0615,1)" font-size="21.5" font-family='"Liberation Sans", Arial, sans-serif' font-weight="bold" font-style="normal" fill="#dc424b">soil-pH</text>
<text transform="translate(550.31,1393.80) scale(1.0514,1)" font-size="21.5" font-family='"Liberation Sans", Arial, sans-serif' font-weight="bold" font-style="normal" fill="#dc424b">soil-Mg</text>
<text transform="translate(442.63,1433.90) scale(1.0174,1)" font-size="21.5" font-family='"Liberation Sans", Arial, sans-serif' font-weight="bold" font-style="normal" fill="#dc424b">soil-Ca</text>
<text transform="translate(276.92,1322.30) scale(1.0327,1)" font-size="21.5" font-family='"Liberation Sans", Arial, sans-serif' font-weight="bold" font-style="normal" fill="#dc424b">soil-N</text>
<text transform="translate(306.63,1366.20) scale(1.0175,1)" font-size="21.5" font-family='"Liberation Sans", Arial, sans-serif' font-weight="bold" font-style="normal" fill="#dc424b">soil-C</text>
<rect x="82.1" y="862.0" width="683.4" height="584.5" fill="none" stroke="#111" stroke-width="2.7"/>
<line x1="77.1" y1="872.3" x2="82.1" y2="872.3" stroke="#111" stroke-width="1.8"/>
<line x1="77.1" y1="1048.0" x2="82.1" y2="1048.0" stroke="#111" stroke-width="1.8"/>
<line x1="77.1" y1="1224.4" x2="82.1" y2="1224.4" stroke="#111" stroke-width="1.8"/>
<line x1="77.1" y1="1400.1" x2="82.1" y2="1400.1" stroke="#111" stroke-width="1.8"/>
<line x1="77.1" y1="1435.7" x2="82.1" y2="1435.7" stroke="#111" stroke-width="1.8"/>
<line x1="91.7" y1="1446.5" x2="91.7" y2="1451.5" stroke="#111" stroke-width="1.8"/>
<line x1="258.3" y1="1446.5" x2="258.3" y2="1451.5" stroke="#111" stroke-width="1.8"/>
<line x1="424.0" y1="1446.5" x2="424.0" y2="1451.5" stroke="#111" stroke-width="1.8"/>
<line x1="589.9" y1="1446.5" x2="589.9" y2="1451.5" stroke="#111" stroke-width="1.8"/>
<line x1="756.0" y1="1446.5" x2="756.0" y2="1451.5" stroke="#111" stroke-width="1.8"/>
<text transform="translate(63.50,917.76) rotate(-90) scale(0.9899,1)" font-size="39.3" font-family='"Liberation Sans", Arial, sans-serif' font-weight="normal" font-style="normal" fill="#111">1.0</text>
<text transform="translate(63.30,1445.59) rotate(-90) scale(1.0226,1)" font-size="39.3" font-family='"Liberation Sans", Arial, sans-serif' font-weight="normal" font-style="normal" fill="#111">-0.6</text>
<text transform="translate(81.02,1491.30) scale(0.9156,1)" font-size="41.3" font-family='"Liberation Sans", Arial, sans-serif' font-weight="normal" font-style="normal" fill="#111">-1.0</text>
<text transform="translate(713.65,1491.30) scale(0.9059,1)" font-size="41.3" font-family='"Liberation Sans", Arial, sans-serif' font-weight="normal" font-style="normal" fill="#111">1.0</text>
<text transform="translate(253.85,1506.80) scale(0.9687,1)" font-size="56" font-family='"Liberation Sans", Arial, sans-serif' font-weight="normal" font-style="normal" fill="#1a1a1a">RDA1 (56.8%)</text>
<text transform="translate(52.90,1313.05) rotate(-90) scale(0.9792,1)" font-size="55.4" font-family='"Liberation Sans", Arial, sans-serif' font-weight="normal" font-style="normal" fill="#1a1a1a">RDA2 (16.0%)</text>
<text transform="translate(-2.58,830.50) scale(1.0689,1)" font-size="61.5" font-family='"Liberation Sans", Arial, sans-serif' font-weight="normal" font-style="normal" fill="#1a1a1a">(c)</text>
<text transform="translate(141.82,830.90) scale(0.9486,1)" font-size="64.5" font-family='"Liberation Sans", Arial, sans-serif' font-weight="normal" font-style="normal" fill="#0a0a0a">Short fallow; Depth 1</text>
<rect x="1113.9" y="1032.4" width="111.7" height="42.9" fill="#f5f9f9"/>
<rect x="1162.7" y="1066.0" width="33.2" height="35.2" fill="#f5f9f9"/>
<rect x="1068.7" y="1091.8" width="112.9" height="42.9" fill="#f5f9f9"/>
<rect x="1146.0" y="1123.0" width="35.8" height="32.0" fill="#f5f9f9"/>
<rect x="1216.0" y="1085.8" width="93.8" height="42.9" fill="#f5f9f9"/>
<rect x="1192.4" y="1098.8" width="33.0" height="35.3" fill="#f5f9f9"/>
<rect x="1073.1" y="1139.6" width="94.1" height="42.9" fill="#f5f9f9"/>
<rect x="1143.3" y="1125.9" width="35.9" height="31.6" fill="#f5f9f9"/>
<rect x="1121.7" y="1178.3" width="102.6" height="42.9" fill="#f5f9f9"/>
<rect x="1213.6" y="1169.3" width="35.8" height="31.9" fill="#f5f9f9"/>
<rect x="1045.5" y="1205.7" width="101.8" height="42.9" fill="#f5f9f9"/>
<rect x="1139.5" y="1215.4" width="35.2" height="29.0" fill="#f5f9f9"/>
<rect x="1285.0" y="1055.6" width="117.3" height="42.9" fill="#f5f9f9"/>
<rect x="1353.7" y="1109.1" width="32.6" height="35.5" fill="#f5f9f9"/>
<line x1="955.1" y1="1227.4" x2="1638.2" y2="1227.4" stroke="#9ca1a1" stroke-width="1.3" stroke-dasharray="5 1.2"/>
<line x1="1296.6" y1="863.8" x2="1296.6" y2="1449.2" stroke="#9ca1a1" stroke-width="1.3" stroke-dasharray="5 1.2"/>
<line x1="1296.6" y1="1227.4" x2="1432.0" y2="1040.5" stroke="#3c4146" stroke-width="2.0" stroke-linecap="round" stroke-dasharray="0.01 3.3"/>
<polygon points="1438.7,1031.2 1435.2,1042.9 1428.7,1038.2" fill="#0a0a14" stroke="#0a0a14" stroke-width="0.8"/>
<line x1="1296.6" y1="1227.4" x2="1399.7" y2="1163.3" stroke="#3c4146" stroke-width="2.0" stroke-linecap="round" stroke-dasharray="0.01 3.3"/>
<polygon points="1409.5,1157.2 1401.8,1166.7 1397.6,1159.9" fill="#0a0a14" stroke="#0a0a14" stroke-width="0.8"/>
<line x1="1296.6" y1="1227.4" x2="1498.9" y2="1205.3" stroke="#3c4146" stroke-width="2.0" stroke-linecap="round" stroke-dasharray="0.01 3.3"/>
<polygon points="1510.3,1204.0 1499.3,1209.2 1498.4,1201.3" fill="#0a0a14" stroke="#0a0a14" stroke-width="0.8"/>
<line x1="1296.6" y1="1227.4" x2="1515.1" y2="1235.9" stroke="#3c4146" stroke-width="2.0" stroke-linecap="round" stroke-dasharray="0.01 3.3"/>
<polygon points="1526.6,1236.3 1515.0,1239.9 1515.3,1231.9" fill="#0a0a14" stroke="#0a0a14" stroke-width="0.8"/>
<line x1="1296.6" y1="1227.4" x2="1491.0" y2="1240.0" stroke="#3c4146" stroke-width="2.0" stroke-linecap="round" stroke-dasharray="0.01 3.3"/>
<polygon points="1502.5,1240.7 1490.8,1244.0 1491.3,1236.0" fill="#0a0a14" stroke="#0a0a14" stroke-width="0.8"/>
<line x1="1296.6" y1="1227.4" x2="1096.8" y2="1244.9" stroke="#3c4146" stroke-width="2.0" stroke-linecap="round" stroke-dasharray="0.01 3.3"/>
<polygon points="1085.3,1245.9 1096.4,1240.9 1097.1,1248.9" fill="#0a0a14" stroke="#0a0a14" stroke-width="0.8"/>
<line x1="1296.6" y1="1227.4" x2="1430.3" y2="1352.9" stroke="#3c4146" stroke-width="2.0" stroke-linecap="round" stroke-dasharray="0.01 3.3"/>
<polygon points="1438.7,1360.8 1427.6,1355.8 1433.1,1350.0" fill="#0a0a14" stroke="#0a0a14" stroke-width="0.8"/>
<line x1="1296.6" y1="1227.4" x2="1427.6" y2="1350.1" stroke="#3c4146" stroke-width="2.0" stroke-linecap="round" stroke-dasharray="0.01 3.3"/>
<polygon points="1436.0,1358.0 1424.9,1353.1 1430.3,1347.2" fill="#0a0a14" stroke="#0a0a14" stroke-width="0.8"/>
<line x1="1296.6" y1="1227.4" x2="1183.3" y2="1089.8" stroke="#dc424b" stroke-width="2.6"/>
<polygon points="1168.7,1072.0 1189.9,1084.4 1176.8,1095.2" fill="none" stroke="#dc424b" stroke-width="2.2" stroke-linejoin="miter"/>
<line x1="1296.6" y1="1227.4" x2="1171.0" y2="1141.9" stroke="#dc424b" stroke-width="2.6"/>
<polygon points="1152.0,1129.0 1175.8,1134.9 1166.2,1149.0" fill="none" stroke="#dc424b" stroke-width="2.2" stroke-linejoin="miter"/>
<line x1="1296.6" y1="1227.4" x2="1212.8" y2="1122.8" stroke="#dc424b" stroke-width="2.6"/>
<polygon points="1198.4,1104.8 1219.4,1117.4 1206.1,1128.1" fill="none" stroke="#dc424b" stroke-width="2.2" stroke-linejoin="miter"/>
<line x1="1296.6" y1="1227.4" x2="1168.6" y2="1144.4" stroke="#dc424b" stroke-width="2.6"/>
<polygon points="1149.3,1131.9 1173.2,1137.3 1164.0,1151.5" fill="none" stroke="#dc424b" stroke-width="2.2" stroke-linejoin="miter"/>
<line x1="1296.6" y1="1227.4" x2="1238.6" y2="1188.2" stroke="#dc424b" stroke-width="2.6"/>
<polygon points="1219.6,1175.3 1243.4,1181.1 1233.9,1195.2" fill="none" stroke="#dc424b" stroke-width="2.2" stroke-linejoin="miter"/>
<line x1="1296.6" y1="1227.4" x2="1168.5" y2="1229.9" stroke="#dc424b" stroke-width="2.6"/>
<polygon points="1145.5,1230.4 1168.3,1221.4 1168.7,1238.4" fill="none" stroke="#dc424b" stroke-width="2.2" stroke-linejoin="miter"/>
<line x1="1296.6" y1="1227.4" x2="1366.6" y2="1133.5" stroke="#dc424b" stroke-width="2.6"/>
<polygon points="1380.3,1115.1 1373.4,1138.6 1359.7,1128.5" fill="none" stroke="#dc424b" stroke-width="2.2" stroke-linejoin="miter"/>
<polygon points="1296.6,1228.9 1292.4,1239.4 1300.8,1239.4" fill="#0a0a14" stroke="#0a0a14" stroke-width="0.8"/>
<text transform="translate(1407.29,1021.40) scale(0.9224,1)" font-size="31.5" font-family='"Liberation Serif", "Times New Roman", serif' font-weight="normal" font-style="italic" fill="#111" stroke="#111" stroke-width="0.35">Ac-sc</text>
<text transform="translate(1374.33,1146.70) scale(0.9591,1)" font-size="31.5" font-family='"Liberation Serif", "Times New Roman", serif' font-weight="normal" font-style="italic" fill="#111" stroke="#111" stroke-width="0.35">Gl-mi</text>
<text transform="translate(1516.96,1212.60) scale(0.9369,1)" font-size="31.5" font-family='"Liberation Serif", "Times New Roman", serif' font-weight="normal" font-style="italic" fill="#111" stroke="#111" stroke-width="0.35">Rh-in</text>
<text transform="translate(1533.79,1257.60) scale(0.9250,1)" font-size="31.5" font-family='"Liberation Serif", "Times New Roman", serif' font-weight="normal" font-style="italic" fill="#111" stroke="#111" stroke-width="0.35">Ac-po</text>
<text transform="translate(1468.53,1283.90) scale(0.9628,1)" font-size="31.5" font-family='"Liberation Serif", "Times New Roman", serif' font-weight="normal" font-style="italic" fill="#111" stroke="#111" stroke-width="0.35">Gi-de</text>
<text transform="translate(1073.26,1281.90) scale(0.9475,1)" font-size="31.5" font-family='"Liberation Serif", "Times New Roman", serif' font-weight="normal" font-style="italic" fill="#111" stroke="#111" stroke-width="0.35">Pa-oc</text>
<text transform="translate(1196.75,1268.40) scale(0.9489,1)" font-size="31.5" font-family='"Liberation Serif", "Times New Roman", serif' font-weight="normal" font-style="italic" fill="#111" stroke="#111" stroke-width="0.35">Gi-ma</text>
<text transform="translate(1287.91,1293.80) scale(0.9372,1)" font-size="31.5" font-family='"Liberation Serif", "Times New Roman", serif' font-weight="normal" font-style="italic" fill="#111" stroke="#111" stroke-width="0.35">Am-ge</text>
<text transform="translate(1440.66,1351.10) scale(0.9288,1)" font-size="31.5" font-family='"Liberation Serif", "Times New Roman", serif' font-weight="normal" font-style="italic" fill="#111" stroke="#111" stroke-width="0.35">Ra-tr</text>
<text transform="translate(1401.92,1391.10) scale(0.9594,1)" font-size="31.5" font-family='"Liberation Serif", "Times New Roman", serif' font-weight="normal" font-style="italic" fill="#111" stroke="#111" stroke-width="0.35">Ce-pe</text>
<text transform="translate(1119.86,1061.60) scale(0.9692,1)" font-size="30.5" font-family='"Liberation Sans", Arial, sans-serif' font-weight="bold" font-style="normal" fill="#dc424b">soil-Ca</text>
<text transform="translate(1074.64,1121.00) scale(0.9868,1)" font-size="30.5" font-family='"Liberation Sans", Arial, sans-serif' font-weight="bold" font-style="normal" fill="#dc424b">soil-pH</text>
<text transform="translate(1221.95,1115.00) scale(0.9780,1)" font-size="30.5" font-family='"Liberation Sans", Arial, sans-serif' font-weight="bold" font-style="normal" fill="#dc424b">soil-N</text>
<text transform="translate(1079.06,1168.80) scale(0.9672,1)" font-size="30.5" font-family='"Liberation Sans", Arial, sans-serif' font-weight="bold" font-style="normal" fill="#dc424b">soil-C</text>
<text transform="translate(1127.64,1207.50) scale(0.9848,1)" font-size="30.5" font-family='"Liberation Sans", Arial, sans-serif' font-weight="bold" font-style="normal" fill="#dc424b">soil-Al</text>
<text transform="translate(1051.43,1234.90) scale(0.9945,1)" font-size="30.5" font-family='"Liberation Sans", Arial, sans-serif' font-weight="bold" font-style="normal" fill="#dc424b">soil-Pi</text>
<text transform="translate(1290.93,1084.80) scale(0.9969,1)" font-size="30.5" font-family='"Liberation Sans", Arial, sans-serif' font-weight="bold" font-style="normal" fill="#dc424b">soil-Mg</text>
<rect x="955.1" y="863.8" width="683.1" height="585.4" fill="none" stroke="#111" stroke-width="2.7"/>
<line x1="950.1" y1="874.1" x2="955.1" y2="874.1" stroke="#111" stroke-width="1.8"/>
<line x1="950.1" y1="1050.5" x2="955.1" y2="1050.5" stroke="#111" stroke-width="1.8"/>
<line x1="950.1" y1="1227.5" x2="955.1" y2="1227.5" stroke="#111" stroke-width="1.8"/>
<line x1="950.1" y1="1403.5" x2="955.1" y2="1403.5" stroke="#111" stroke-width="1.8"/>
<line x1="950.1" y1="1438.3" x2="955.1" y2="1438.3" stroke="#111" stroke-width="1.8"/>
<line x1="964.6" y1="1449.2" x2="964.6" y2="1454.2" stroke="#111" stroke-width="1.8"/>
<line x1="1130.7" y1="1449.2" x2="1130.7" y2="1454.2" stroke="#111" stroke-width="1.8"/>
<line x1="1296.6" y1="1449.2" x2="1296.6" y2="1454.2" stroke="#111" stroke-width="1.8"/>
<line x1="1462.0" y1="1449.2" x2="1462.0" y2="1454.2" stroke="#111" stroke-width="1.8"/>
<line x1="1627.3" y1="1449.2" x2="1627.3" y2="1454.2" stroke="#111" stroke-width="1.8"/>
<text transform="translate(936.80,919.06) rotate(-90) scale(0.9899,1)" font-size="39.3" font-family='"Liberation Sans", Arial, sans-serif' font-weight="normal" font-style="normal" fill="#111">1.0</text>
<text transform="translate(936.50,1449.50) rotate(-90) scale(1.0335,1)" font-size="39.3" font-family='"Liberation Sans", Arial, sans-serif' font-weight="normal" font-style="normal" fill="#111">-0.6</text>
<text transform="translate(954.43,1494.60) scale(0.9082,1)" font-size="41.3" font-family='"Liberation Sans", Arial, sans-serif' font-weight="normal" font-style="normal" fill="#111">-1.0</text>
<text transform="translate(1584.94,1494.60) scale(0.9078,1)" font-size="41.3" font-family='"Liberation Sans", Arial, sans-serif' font-weight="normal" font-style="normal" fill="#111">1.0</text>
<text transform="translate(1126.74,1506.00) scale(0.9715,1)" font-size="56" font-family='"Liberation Sans", Arial, sans-serif' font-weight="normal" font-style="normal" fill="#1a1a1a">RDA1 (30.0%)</text>
<text transform="translate(927.20,1313.05) rotate(-90) scale(0.9792,1)" font-size="55.4" font-family='"Liberation Sans", Arial, sans-serif' font-weight="normal" font-style="normal" fill="#1a1a1a">RDA2 (18.1%)</text>
<text transform="translate(826.03,830.50) scale(1.0661,1)" font-size="61.5" font-family='"Liberation Sans", Arial, sans-serif' font-weight="normal" font-style="normal" fill="#1a1a1a">(d)</text>
<text transform="translate(1002.29,830.90) scale(0.9589,1)" font-size="64.5" font-family='"Liberation Sans", Arial, sans-serif' font-weight="normal" font-style="normal" fill="#0a0a0a">Short fallow; Depth 2</text>
<rect x="356.1" y="1764.8" width="88.1" height="36.5" fill="#f5f9f9"/>
<rect x="431.9" y="1789.1" width="28.9" height="35.9" fill="#f5f9f9"/>
<rect x="346.8" y="1808.8" width="86.3" height="36.5" fill="#f5f9f9"/>
<rect x="424.1" y="1791.6" width="28.9" height="35.7" fill="#f5f9f9"/>
<rect x="496.1" y="1823.2" width="91.0" height="36.5" fill="#f5f9f9"/>
<rect x="514.7" y="1850.3" width="33.1" height="35.2" fill="#f5f9f9"/>
<rect x="436.2" y="1857.3" width="79.6" height="36.5" fill="#f5f9f9"/>
<rect x="451.8" y="1884.6" width="29.4" height="36.4" fill="#f5f9f9"/>
<rect x="461.2" y="1940.5" width="79.9" height="36.5" fill="#f5f9f9"/>
<rect x="438.2" y="1933.7" width="31.6" height="35.9" fill="#f5f9f9"/>
<rect x="171.8" y="1961.0" width="74.2" height="36.5" fill="#f5f9f9"/>
<rect x="240.7" y="1965.9" width="36.0" height="28.8" fill="#f5f9f9"/>
<rect x="150.6" y="2008.3" width="74.7" height="36.5" fill="#f5f9f9"/>
<rect x="215.6" y="1992.1" width="35.1" height="29.0" fill="#f5f9f9"/>
<rect x="507.4" y="2097.2" width="74.7" height="36.5" fill="#f5f9f9"/>
<rect x="482.9" y="2094.4" width="32.3" height="35.6" fill="#f5f9f9"/>
<line x1="79.7" y1="2003.9" x2="765.0" y2="2003.9" stroke="#9ca1a1" stroke-width="1.3" stroke-dasharray="5 1.2"/>
<line x1="422.4" y1="1639.8" x2="422.4" y2="2226.5" stroke="#9ca1a1" stroke-width="1.3" stroke-dasharray="5 1.2"/>
<line x1="422.6" y1="2003.6" x2="330.9" y2="1813.4" stroke="#3c4146" stroke-width="2.0" stroke-linecap="round" stroke-dasharray="0.01 3.3"/>
<polygon points="325.9,1803.0 334.5,1811.6 327.3,1815.1" fill="#0a0a14" stroke="#0a0a14" stroke-width="0.8"/>
<line x1="422.6" y1="2003.6" x2="242.3" y2="1840.8" stroke="#3c4146" stroke-width="2.0" stroke-linecap="round" stroke-dasharray="0.01 3.3"/>
<polygon points="233.8,1833.1 245.0,1837.8 239.7,1843.8" fill="#0a0a14" stroke="#0a0a14" stroke-width="0.8"/>
<line x1="422.6" y1="2003.6" x2="477.5" y2="1790.3" stroke="#3c4146" stroke-width="2.0" stroke-linecap="round" stroke-dasharray="0.01 3.3"/>
<polygon points="480.4,1779.2 481.4,1791.3 473.7,1789.3" fill="#0a0a14" stroke="#0a0a14" stroke-width="0.8"/>
<line x1="422.6" y1="2003.6" x2="514.1" y2="1790.9" stroke="#3c4146" stroke-width="2.0" stroke-linecap="round" stroke-dasharray="0.01 3.3"/>
<polygon points="518.6,1780.3 517.7,1792.4 510.4,1789.3" fill="#0a0a14" stroke="#0a0a14" stroke-width="0.8"/>
<line x1="422.6" y1="2003.6" x2="527.9" y2="1814.3" stroke="#3c4146" stroke-width="2.0" stroke-linecap="round" stroke-dasharray="0.01 3.3"/>
<polygon points="533.5,1804.2 531.4,1816.2 524.4,1812.3" fill="#0a0a14" stroke="#0a0a14" stroke-width="0.8"/>
<line x1="422.6" y1="2003.6" x2="699.3" y2="1873.3" stroke="#3c4146" stroke-width="2.0" stroke-linecap="round" stroke-dasharray="0.01 3.3"/>
<polygon points="709.7,1868.4 701.0,1876.9 697.6,1869.7" fill="#0a0a14" stroke="#0a0a14" stroke-width="0.8"/>
<line x1="422.6" y1="2003.6" x2="542.0" y2="1906.2" stroke="#3c4146" stroke-width="2.0" stroke-linecap="round" stroke-dasharray="0.01 3.3"/>
<polygon points="550.9,1898.9 544.5,1909.3 539.5,1903.1" fill="#0a0a14" stroke="#0a0a14" stroke-width="0.8"/>
<line x1="422.6" y1="2003.6" x2="535.6" y2="1908.4" stroke="#3c4146" stroke-width="2.0" stroke-linecap="round" stroke-dasharray="0.01 3.3"/>
<polygon points="544.4,1901.0 538.2,1911.5 533.0,1905.3" fill="#0a0a14" stroke="#0a0a14" stroke-width="0.8"/>
<line x1="422.6" y1="2003.6" x2="721.9" y2="1987.9" stroke="#3c4146" stroke-width="2.0" stroke-linecap="round" stroke-dasharray="0.01 3.3"/>
<polygon points="733.4,1987.3 722.1,1991.9 721.7,1983.9" fill="#0a0a14" stroke="#0a0a14" stroke-width="0.8"/>
<line x1="422.6" y1="2003.6" x2="400.2" y2="2049.7" stroke="#3c4146" stroke-width="2.0" stroke-linecap="round" stroke-dasharray="0.01 3.3"/>
<polygon points="395.2,2060.0 396.6,2047.9 403.8,2051.4" fill="#0a0a14" stroke="#0a0a14" stroke-width="0.8"/>
<line x1="422.6" y1="2003.6" x2="492.1" y2="2180.5" stroke="#3c4146" stroke-width="2.0" stroke-linecap="round" stroke-dasharray="0.01 3.3"/>
<polygon points="496.3,2191.2 488.4,2182.0 495.8,2179.0" fill="#0a0a14" stroke="#0a0a14" stroke-width="0.8"/>
<line x1="422.6" y1="2003.6" x2="446.4" y2="1817.9" stroke="#dc424b" stroke-width="2.6"/>
<polygon points="449.3,1795.1 454.8,1819.0 437.9,1816.8" fill="none" stroke="#dc424b" stroke-width="2.2" stroke-linejoin="miter"/>
<line x1="422.6" y1="2003.6" x2="438.6" y2="1820.5" stroke="#dc424b" stroke-width="2.6"/>
<polygon points="440.6,1797.6 447.1,1821.3 430.1,1819.8" fill="none" stroke="#dc424b" stroke-width="2.2" stroke-linejoin="miter"/>
<line x1="422.6" y1="2003.6" x2="527.3" y2="1874.2" stroke="#dc424b" stroke-width="2.6"/>
<polygon points="541.8,1856.3 533.9,1879.5 520.7,1868.8" fill="none" stroke="#dc424b" stroke-width="2.2" stroke-linejoin="miter"/>
<line x1="422.6" y1="2003.6" x2="465.5" y2="1911.5" stroke="#dc424b" stroke-width="2.6"/>
<polygon points="475.2,1890.6 473.2,1915.0 457.8,1907.9" fill="none" stroke="#dc424b" stroke-width="2.2" stroke-linejoin="miter"/>
<line x1="422.6" y1="2003.6" x2="451.3" y2="1959.0" stroke="#dc424b" stroke-width="2.6"/>
<polygon points="463.8,1939.7 458.5,1963.6 444.2,1954.4" fill="none" stroke="#dc424b" stroke-width="2.2" stroke-linejoin="miter"/>
<line x1="422.6" y1="2003.6" x2="269.4" y2="1980.3" stroke="#dc424b" stroke-width="2.6"/>
<polygon points="246.7,1976.8 270.7,1971.9 268.2,1988.7" fill="none" stroke="#dc424b" stroke-width="2.2" stroke-linejoin="miter"/>
<line x1="422.6" y1="2003.6" x2="244.6" y2="2006.6" stroke="#dc424b" stroke-width="2.6"/>
<polygon points="221.6,2007.0 244.5,1998.1 244.7,2015.1" fill="none" stroke="#dc424b" stroke-width="2.2" stroke-linejoin="miter"/>
<line x1="422.6" y1="2003.6" x2="495.8" y2="2105.3" stroke="#dc424b" stroke-width="2.6"/>
<polygon points="509.2,2124.0 488.9,2110.3 502.7,2100.4" fill="none" stroke="#dc424b" stroke-width="2.2" stroke-linejoin="miter"/>
<polygon points="422.6,2005.1 418.4,2015.6 426.8,2015.6" fill="#0a0a14" stroke="#0a0a14" stroke-width="0.8"/>
<text transform="translate(302.22,1796.20) scale(0.9189,1)" font-size="24" font-family='"Liberation Serif", "Times New Roman", serif' font-weight="normal" font-style="italic" fill="#1e1e1e" stroke="#1e1e1e" stroke-width="0.6">Rh-in</text>
<text transform="translate(209.90,1826.00) scale(0.9126,1)" font-size="24" font-family='"Liberation Serif", "Times New Roman", serif' font-weight="normal" font-style="italic" fill="#1e1e1e" stroke="#1e1e1e" stroke-width="0.6">Ac-sc</text>
<text transform="translate(446.70,1768.90) scale(0.9163,1)" font-size="24" font-family='"Liberation Serif", "Times New Roman", serif' font-weight="normal" font-style="italic" fill="#1e1e1e" stroke="#1e1e1e" stroke-width="0.6">Am-ge</text>
<text transform="translate(520.92,1772.20) scale(0.9287,1)" font-size="24" font-family='"Liberation Serif", "Times New Roman", serif' font-weight="normal" font-style="italic" fill="#1e1e1e" stroke="#1e1e1e" stroke-width="0.6">Pa-oc</text>
<text transform="translate(536.90,1797.10) scale(0.9114,1)" font-size="24" font-family='"Liberation Serif", "Times New Roman", serif' font-weight="normal" font-style="italic" fill="#1e1e1e" stroke="#1e1e1e" stroke-width="0.6">Ac-pa</text>
<text transform="translate(682.49,1861.30) scale(0.9094,1)" font-size="24" font-family='"Liberation Serif", "Times New Roman", serif' font-weight="normal" font-style="italic" fill="#1e1e1e" stroke="#1e1e1e" stroke-width="0.6">Am-sp</text>
<text transform="translate(546.23,1890.50) scale(0.9471,1)" font-size="24" font-family='"Liberation Serif", "Times New Roman", serif' font-weight="normal" font-style="italic" fill="#1e1e1e" stroke="#1e1e1e" stroke-width="0.6">Ce-pe</text>
<text transform="translate(552.82,1921.50) scale(0.9300,1)" font-size="24" font-family='"Liberation Serif", "Times New Roman", serif' font-weight="normal" font-style="italic" fill="#1e1e1e" stroke="#1e1e1e" stroke-width="0.6">Ra-tr</text>
<text transform="translate(705.12,1980.10) scale(0.9281,1)" font-size="24" font-family='"Liberation Serif", "Times New Roman", serif' font-weight="normal" font-style="italic" fill="#1e1e1e" stroke="#1e1e1e" stroke-width="0.6">Ac-me</text>
<text transform="translate(363.28,2026.50) scale(0.9188,1)" font-size="24" font-family='"Liberation Serif", "Times New Roman", serif' font-weight="normal" font-style="italic" fill="#1e1e1e" stroke="#1e1e1e" stroke-width="0.6">Gi-ma</text>
<text transform="translate(367.16,2084.10) scale(0.9343,1)" font-size="24" font-family='"Liberation Serif", "Times New Roman", serif' font-weight="normal" font-style="italic" fill="#1e1e1e" stroke="#1e1e1e" stroke-width="0.6">Gl-mi</text>
<text transform="translate(471.05,2214.30) scale(0.9435,1)" font-size="24" font-family='"Liberation Serif", "Times New Roman", serif' font-weight="normal" font-style="italic" fill="#1e1e1e" stroke="#1e1e1e" stroke-width="0.6">Gi-de</text>
<text transform="translate(362.31,1789.00) scale(0.9396,1)" font-size="24" font-family='"Liberation Sans", Arial, sans-serif' font-weight="bold" font-style="normal" fill="#dc424b">soil-pH</text>
<text transform="translate(353.03,1833.00) scale(0.9114,1)" font-size="24" font-family='"Liberation Sans", Arial, sans-serif' font-weight="bold" font-style="normal" fill="#dc424b">soil-Ca</text>
<text transform="translate(502.30,1847.40) scale(0.9443,1)" font-size="24" font-family='"Liberation Sans", Arial, sans-serif' font-weight="bold" font-style="normal" fill="#dc424b">soil-Mg</text>
<text transform="translate(442.42,1881.50) scale(0.9266,1)" font-size="24" font-family='"Liberation Sans", Arial, sans-serif' font-weight="bold" font-style="normal" fill="#dc424b">soil-Al</text>
<text transform="translate(467.40,1964.70) scale(0.9486,1)" font-size="24" font-family='"Liberation Sans", Arial, sans-serif' font-weight="bold" font-style="normal" fill="#dc424b">soil-Pi</text>
<text transform="translate(178.01,1985.20) scale(0.9376,1)" font-size="24" font-family='"Liberation Sans", Arial, sans-serif' font-weight="bold" font-style="normal" fill="#dc424b">soil-N</text>
<text transform="translate(156.81,2032.50) scale(0.9314,1)" font-size="24" font-family='"Liberation Sans", Arial, sans-serif' font-weight="bold" font-style="normal" fill="#dc424b">soil-C</text>
<text transform="translate(513.62,2121.40) scale(0.9253,1)" font-size="24" font-family='"Liberation Sans", Arial, sans-serif' font-weight="bold" font-style="normal" fill="#dc424b">soil-K</text>
<rect x="79.7" y="1639.8" width="685.3" height="586.7" fill="none" stroke="#111" stroke-width="2.7"/>
<line x1="74.7" y1="1650.5" x2="79.7" y2="1650.5" stroke="#111" stroke-width="1.8"/>
<line x1="74.7" y1="1827.2" x2="79.7" y2="1827.2" stroke="#111" stroke-width="1.8"/>
<line x1="74.7" y1="2004.1" x2="79.7" y2="2004.1" stroke="#111" stroke-width="1.8"/>
<line x1="74.7" y1="2180.9" x2="79.7" y2="2180.9" stroke="#111" stroke-width="1.8"/>
<line x1="74.7" y1="2216.3" x2="79.7" y2="2216.3" stroke="#111" stroke-width="1.8"/>
<line x1="89.1" y1="2226.5" x2="89.1" y2="2231.5" stroke="#111" stroke-width="1.8"/>
<line x1="256.3" y1="2226.5" x2="256.3" y2="2231.5" stroke="#111" stroke-width="1.8"/>
<line x1="422.1" y1="2226.5" x2="422.1" y2="2231.5" stroke="#111" stroke-width="1.8"/>
<line x1="588.5" y1="2226.5" x2="588.5" y2="2231.5" stroke="#111" stroke-width="1.8"/>
<line x1="755.4" y1="2226.5" x2="755.4" y2="2231.5" stroke="#111" stroke-width="1.8"/>
<text transform="translate(61.00,1696.51) rotate(-90) scale(1.0039,1)" font-size="39.3" font-family='"Liberation Sans", Arial, sans-serif' font-weight="normal" font-style="normal" fill="#111">1.0</text>
<text transform="translate(60.80,2225.59) rotate(-90) scale(1.0226,1)" font-size="39.3" font-family='"Liberation Sans", Arial, sans-serif' font-weight="normal" font-style="normal" fill="#111">-0.6</text>
<text transform="translate(78.93,2271.30) scale(0.9082,1)" font-size="41.3" font-family='"Liberation Sans", Arial, sans-serif' font-weight="normal" font-style="normal" fill="#111">-1.0</text>
<text transform="translate(712.68,2270.60) scale(0.8660,1)" font-size="41.3" font-family='"Liberation Sans", Arial, sans-serif' font-weight="normal" font-style="normal" fill="#111">1.0</text>
<text transform="translate(253.84,2282.90) scale(0.9707,1)" font-size="56" font-family='"Liberation Sans", Arial, sans-serif' font-weight="normal" font-style="normal" fill="#1a1a1a">RDA1 (40.0%)</text>
<text transform="translate(52.90,2092.45) rotate(-90) scale(0.9800,1)" font-size="55.4" font-family='"Liberation Sans", Arial, sans-serif' font-weight="normal" font-style="normal" fill="#1a1a1a">RDA2 (18.2%)</text>
<text transform="translate(-2.51,1602.30) scale(1.0528,1)" font-size="61.5" font-family='"Liberation Sans", Arial, sans-serif' font-weight="normal" font-style="normal" fill="#1a1a1a">(e)</text>
<text transform="translate(177.00,1602.30) scale(0.9469,1)" font-size="64.5" font-family='"Liberation Sans", Arial, sans-serif' font-weight="normal" font-style="normal" fill="#0a0a0a">Cropping; Depth 1</text>
<line x1="942.8" y1="2002.3" x2="1643.8" y2="2002.3" stroke="#9ca1a1" stroke-width="1.3" stroke-dasharray="5 1.2"/>
<line x1="1294.0" y1="1639.1" x2="1294.0" y2="2225.7" stroke="#9ca1a1" stroke-width="1.3" stroke-dasharray="5 1.2"/>
<line x1="1293.3" y1="2002.0" x2="1203.1" y2="1720.3" stroke="#3c4146" stroke-width="2.0" stroke-linecap="round" stroke-dasharray="0.01 3.3"/>
<polygon points="1199.6,1709.3 1206.9,1719.0 1199.3,1721.5" fill="#24366e" stroke="#05070c" stroke-width="1.0"/>
<line x1="1293.3" y1="2002.0" x2="1263.8" y2="1735.2" stroke="#3c4146" stroke-width="2.0" stroke-linecap="round" stroke-dasharray="0.01 3.3"/>
<polygon points="1262.5,1723.8 1267.7,1734.8 1259.8,1735.7" fill="#24366e" stroke="#05070c" stroke-width="1.0"/>
<line x1="1293.3" y1="2002.0" x2="1480.7" y2="1938.1" stroke="#3c4146" stroke-width="2.0" stroke-linecap="round" stroke-dasharray="0.01 3.3"/>
<polygon points="1491.6,1934.4 1482.0,1941.9 1479.4,1934.3" fill="#24366e" stroke="#05070c" stroke-width="1.0"/>
<line x1="1293.3" y1="2002.0" x2="994.8" y2="2107.2" stroke="#3c4146" stroke-width="2.0" stroke-linecap="round" stroke-dasharray="0.01 3.3"/>
<polygon points="984.0,2111.0 993.5,2103.4 996.2,2111.0" fill="#24366e" stroke="#05070c" stroke-width="1.0"/>
<line x1="1293.3" y1="2002.0" x2="1486.1" y2="2033.5" stroke="#3c4146" stroke-width="2.0" stroke-linecap="round" stroke-dasharray="0.01 3.3"/>
<polygon points="1497.4,2035.4 1485.4,2037.5 1486.7,2029.6" fill="#24366e" stroke="#05070c" stroke-width="1.0"/>
<line x1="1293.3" y1="2002.0" x2="1437.7" y2="2061.0" stroke="#3c4146" stroke-width="2.0" stroke-linecap="round" stroke-dasharray="0.01 3.3"/>
<polygon points="1448.3,2065.4 1436.1,2064.7 1439.2,2057.3" fill="#24366e" stroke="#05070c" stroke-width="1.0"/>
<line x1="1293.3" y1="2002.0" x2="1452.0" y2="2071.1" stroke="#3c4146" stroke-width="2.0" stroke-linecap="round" stroke-dasharray="0.01 3.3"/>
<polygon points="1462.5,2075.7 1450.4,2074.8 1453.6,2067.4" fill="#24366e" stroke="#05070c" stroke-width="1.0"/>
<line x1="1293.3" y1="2002.0" x2="1535.0" y2="2094.1" stroke="#3c4146" stroke-width="2.0" stroke-linecap="round" stroke-dasharray="0.01 3.3"/>
<polygon points="1545.7,2098.2 1533.5,2097.8 1536.4,2090.4" fill="#24366e" stroke="#05070c" stroke-width="1.0"/>
<line x1="1293.3" y1="2002.0" x2="1555.5" y2="2130.6" stroke="#3c4146" stroke-width="2.0" stroke-linecap="round" stroke-dasharray="0.01 3.3"/>
<polygon points="1565.8,2135.7 1553.7,2134.2 1557.2,2127.0" fill="#24366e" stroke="#05070c" stroke-width="1.0"/>
<line x1="1293.3" y1="2002.0" x2="1556.7" y2="2131.9" stroke="#3c4146" stroke-width="2.0" stroke-linecap="round" stroke-dasharray="0.01 3.3"/>
<polygon points="1567.0,2137.0 1554.9,2135.5 1558.5,2128.3" fill="#24366e" stroke="#05070c" stroke-width="1.0"/>
<line x1="1293.3" y1="2002.0" x2="1467.8" y2="2144.4" stroke="#3c4146" stroke-width="2.0" stroke-linecap="round" stroke-dasharray="0.01 3.3"/>
<polygon points="1476.7,2151.7 1465.3,2147.5 1470.3,2141.3" fill="#24366e" stroke="#05070c" stroke-width="1.0"/>
<line x1="1293.3" y1="2002.0" x2="1183.9" y2="1970.1" stroke="#f05a5a" stroke-width="2.6"/>
<polygon points="1161.8,1963.7 1186.3,1962.0 1181.5,1978.3" fill="none" stroke="#f05a5a" stroke-width="2.2" stroke-linejoin="miter"/>
<line x1="1293.3" y1="2002.0" x2="1145.3" y2="1980.1" stroke="#f05a5a" stroke-width="2.6"/>
<polygon points="1122.5,1976.7 1146.5,1971.7 1144.0,1988.5" fill="none" stroke="#f05a5a" stroke-width="2.2" stroke-linejoin="miter"/>
<line x1="1293.3" y1="2002.0" x2="1381.0" y2="1978.1" stroke="#f05a5a" stroke-width="2.6"/>
<polygon points="1403.2,1972.0 1383.3,1986.3 1378.8,1969.9" fill="none" stroke="#f05a5a" stroke-width="2.2" stroke-linejoin="miter"/>
<line x1="1293.3" y1="2002.0" x2="1109.8" y2="2110.7" stroke="#f05a5a" stroke-width="2.6"/>
<polygon points="1090.0,2122.4 1105.5,2103.4 1114.1,2118.0" fill="none" stroke="#f05a5a" stroke-width="2.2" stroke-linejoin="miter"/>
<line x1="1293.3" y1="2002.0" x2="1090.9" y2="2132.9" stroke="#f05a5a" stroke-width="2.6"/>
<polygon points="1071.6,2145.4 1086.3,2125.8 1095.5,2140.0" fill="none" stroke="#f05a5a" stroke-width="2.2" stroke-linejoin="miter"/>
<line x1="1293.3" y1="2002.0" x2="1169.1" y2="2109.3" stroke="#f05a5a" stroke-width="2.6"/>
<polygon points="1151.7,2124.3 1163.6,2102.8 1174.7,2115.7" fill="none" stroke="#f05a5a" stroke-width="2.2" stroke-linejoin="miter"/>
<line x1="1293.3" y1="2002.0" x2="1214.7" y2="2092.1" stroke="#f05a5a" stroke-width="2.6"/>
<polygon points="1199.6,2109.4 1208.3,2086.5 1221.1,2097.7" fill="none" stroke="#f05a5a" stroke-width="2.2" stroke-linejoin="miter"/>
<line x1="1293.3" y1="2002.0" x2="1258.4" y2="2035.6" stroke="#f05a5a" stroke-width="2.6"/>
<polygon points="1241.8,2051.6 1252.5,2029.5 1264.3,2041.8" fill="none" stroke="#f05a5a" stroke-width="2.2" stroke-linejoin="miter"/>
<polygon points="1293.3,2003.5 1289.1,2014.0 1297.5,2014.0" fill="#24366e" stroke="#05070c" stroke-width="1.0"/>
<text transform="translate(1164.75,1699.60) scale(0.9571,1)" font-size="31.5" font-family='"Liberation Serif", "Times New Roman", serif' font-weight="normal" font-style="italic" fill="#111" stroke="#111" stroke-width="0.35">Ac-pa</text>
<text transform="translate(1263.29,1731.70) scale(0.9863,1)" font-size="31.5" font-family='"Liberation Serif", "Times New Roman", serif' font-weight="normal" font-style="italic" fill="#111" stroke="#111" stroke-width="0.35">Gi-ma</text>
<text transform="translate(1496.81,1944.10) scale(0.9718,1)" font-size="31.5" font-family='"Liberation Serif", "Times New Roman", serif' font-weight="normal" font-style="italic" fill="#111" stroke="#111" stroke-width="0.35">Gl-mi</text>
<text transform="translate(1304.42,1969.90) scale(0.9657,1)" font-size="31.5" font-family='"Liberation Serif", "Times New Roman", serif' font-weight="normal" font-style="italic" fill="#111" stroke="#111" stroke-width="0.35">Gi-de</text>
<text transform="translate(954.86,2093.20) scale(0.9630,1)" font-size="31.5" font-family='"Liberation Serif", "Times New Roman", serif' font-weight="normal" font-style="italic" fill="#111" stroke="#111" stroke-width="0.35">Rh-in</text>
<text transform="translate(1500.77,2045.80) scale(0.9842,1)" font-size="31.5" font-family='"Liberation Serif", "Times New Roman", serif' font-weight="normal" font-style="italic" fill="#111" stroke="#111" stroke-width="0.35">Ce-pe</text>
<text transform="translate(1416.66,2053.60) scale(0.9408,1)" font-size="31.5" font-family='"Liberation Serif", "Times New Roman", serif' font-weight="normal" font-style="italic" fill="#111" stroke="#111" stroke-width="0.35">Ra-tr</text>
<text transform="translate(1551.96,2093.60) scale(0.9624,1)" font-size="31.5" font-family='"Liberation Serif", "Times New Roman", serif' font-weight="normal" font-style="italic" fill="#111" stroke="#111" stroke-width="0.35">Am-ge</text>
<text transform="translate(1418.76,2109.10) scale(0.9634,1)" font-size="31.5" font-family='"Liberation Serif", "Times New Roman", serif' font-weight="normal" font-style="italic" fill="#111" stroke="#111" stroke-width="0.35">Pa-oc</text>
<text transform="translate(1549.32,2128.50) scale(0.9390,1)" font-size="31.5" font-family='"Liberation Serif", "Times New Roman", serif' font-weight="normal" font-style="italic" fill="#111" stroke="#111" stroke-width="0.35">Am-sp</text>
<text transform="translate(1527.46,2164.70) scale(0.9612,1)" font-size="31.5" font-family='"Liberation Serif", "Times New Roman", serif' font-weight="normal" font-style="italic" fill="#111" stroke="#111" stroke-width="0.35">Ac-me</text>
<text transform="translate(1443.43,2181.50) scale(0.9490,1)" font-size="31.5" font-family='"Liberation Serif", "Times New Roman", serif' font-weight="normal" font-style="italic" fill="#111" stroke="#111" stroke-width="0.35">Ac-sc</text>
<text transform="translate(1097.61,1945.50) scale(0.9555,1)" font-size="32.5" font-family='"Liberation Sans", Arial, sans-serif' font-weight="bold" font-style="normal" fill="#f05a5a">soil-Mg</text>
<text transform="translate(1048.30,2011.60) scale(0.9607,1)" font-size="32.5" font-family='"Liberation Sans", Arial, sans-serif' font-weight="bold" font-style="normal" fill="#f05a5a">soil-Al</text>
<text transform="translate(1409.92,1983.70) scale(0.9433,1)" font-size="32.5" font-family='"Liberation Sans", Arial, sans-serif' font-weight="bold" font-style="normal" fill="#f05a5a">soil-K</text>
<text transform="translate(994.23,2132.60) scale(0.9360,1)" font-size="32.5" font-family='"Liberation Sans", Arial, sans-serif' font-weight="bold" font-style="normal" fill="#f05a5a">soil-C</text>
<text transform="translate(1017.21,2177.70) scale(0.9500,1)" font-size="32.5" font-family='"Liberation Sans", Arial, sans-serif' font-weight="bold" font-style="normal" fill="#f05a5a">soil-N</text>
<text transform="translate(1101.13,2155.60) scale(0.9328,1)" font-size="32.5" font-family='"Liberation Sans", Arial, sans-serif' font-weight="bold" font-style="normal" fill="#f05a5a">soil-Ca</text>
<text transform="translate(1208.01,2139.10) scale(0.9503,1)" font-size="32.5" font-family='"Liberation Sans", Arial, sans-serif' font-weight="bold" font-style="normal" fill="#f05a5a">soil-Pi</text>
<text transform="translate(1245.71,2082.10) scale(0.9504,1)" font-size="32.5" font-family='"Liberation Sans", Arial, sans-serif' font-weight="bold" font-style="normal" fill="#f05a5a">soil-pH</text>
<rect x="942.8" y="1639.1" width="701.0" height="586.6" fill="none" stroke="#111" stroke-width="2.7"/>
<line x1="937.8" y1="1649.8" x2="942.8" y2="1649.8" stroke="#111" stroke-width="1.8"/>
<line x1="937.8" y1="1720.7" x2="942.8" y2="1720.7" stroke="#111" stroke-width="1.8"/>
<line x1="937.8" y1="1791.0" x2="942.8" y2="1791.0" stroke="#111" stroke-width="1.8"/>
<line x1="937.8" y1="1861.4" x2="942.8" y2="1861.4" stroke="#111" stroke-width="1.8"/>
<line x1="937.8" y1="1931.8" x2="942.8" y2="1931.8" stroke="#111" stroke-width="1.8"/>
<line x1="937.8" y1="2002.1" x2="942.8" y2="2002.1" stroke="#111" stroke-width="1.8"/>
<line x1="937.8" y1="2073.7" x2="942.8" y2="2073.7" stroke="#111" stroke-width="1.8"/>
<line x1="937.8" y1="2144.0" x2="942.8" y2="2144.0" stroke="#111" stroke-width="1.8"/>
<line x1="937.8" y1="2214.4" x2="942.8" y2="2214.4" stroke="#111" stroke-width="1.8"/>
<line x1="953.4" y1="2225.7" x2="953.4" y2="2230.7" stroke="#111" stroke-width="1.8"/>
<line x1="1123.1" y1="2225.7" x2="1123.1" y2="2230.7" stroke="#111" stroke-width="1.8"/>
<line x1="1293.3" y1="2225.7" x2="1293.3" y2="2230.7" stroke="#111" stroke-width="1.8"/>
<line x1="1463.8" y1="2225.7" x2="1463.8" y2="2230.7" stroke="#111" stroke-width="1.8"/>
<line x1="1634.3" y1="2225.7" x2="1634.3" y2="2230.7" stroke="#111" stroke-width="1.8"/>
<text transform="translate(924.00,1696.01) rotate(-90) scale(0.9720,1)" font-size="39.3" font-family='"Liberation Sans", Arial, sans-serif' font-weight="normal" font-style="normal" fill="#111">1.0</text>
<text transform="translate(923.80,2223.89) rotate(-90) scale(1.0226,1)" font-size="39.3" font-family='"Liberation Sans", Arial, sans-serif' font-weight="normal" font-style="normal" fill="#111">-0.6</text>
<text transform="translate(942.18,2269.90) scale(0.9392,1)" font-size="41.3" font-family='"Liberation Sans", Arial, sans-serif' font-weight="normal" font-style="normal" fill="#111">-1.0</text>
<text transform="translate(1590.81,2269.50) scale(0.9173,1)" font-size="41.3" font-family='"Liberation Sans", Arial, sans-serif' font-weight="normal" font-style="normal" fill="#111">1.0</text>
<text transform="translate(1119.44,2283.40) scale(0.9704,1)" font-size="56" font-family='"Liberation Sans", Arial, sans-serif' font-weight="normal" font-style="normal" fill="#1a1a1a">RDA1 (55.0%)</text>
<text transform="translate(919.30,2092.45) rotate(-90) scale(0.9800,1)" font-size="55.4" font-family='"Liberation Sans", Arial, sans-serif' font-weight="normal" font-style="normal" fill="#1a1a1a">RDA2 (18.8%)</text>
<text transform="translate(825.95,1602.30) scale(1.0869,1)" font-size="61.5" font-family='"Liberation Sans", Arial, sans-serif' font-weight="normal" font-style="normal" fill="#1a1a1a">(f)</text>
<text transform="translate(1037.45,1602.30) scale(0.9617,1)" font-size="64.5" font-family='"Liberation Sans", Arial, sans-serif' font-weight="normal" font-style="normal" fill="#0a0a0a">Cropping; Depth 2</text>
</svg></body></html>
